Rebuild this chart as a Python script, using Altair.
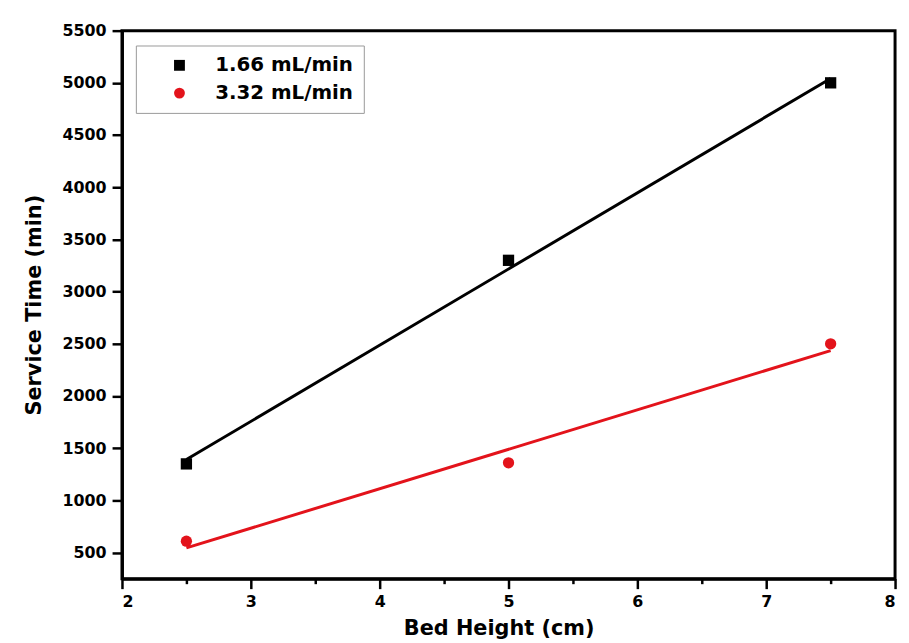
import altair as alt
import pandas as pd

bed_height = [2.5, 5.0, 7.5]
series_a = "1.66 mL/min"
series_b = "3.32 mL/min"
time_a = [1350, 3300, 5000]
time_b = [610, 1360, 2500]

x_major = [2, 3, 4, 5, 6, 7, 8]
x_minor = [2.5, 3.5, 4.5, 5.5, 6.5, 7.5]
y_major = [500, 1000, 1500, 2000, 2500, 3000, 3500, 4000, 4500, 5000, 5500]
y_minor = [750, 1250, 1750, 2250, 2750, 3250, 3750, 4250, 4750, 5250]

df = pd.DataFrame({
    "x": bed_height + bed_height,
    "y": time_a + time_b,
    "series": [series_a] * 3 + [series_b] * 3,
})

FONT = "DejaVu Sans"
RED = "#e3131b"

xaxis = alt.Axis(
    values=sorted(x_major + x_minor),
    labelExpr="datum.value % 1 === 0 ? format(datum.value, 'd') : ''",
    tickSize={"condition": {"test": "datum.value % 1 !== 0", "value": 5}, "value": 10},
    grid=False, title="Bed Height (cm)", labelFont=FONT, labelFontSize=16,
    labelFontWeight="bold", labelColor="black", titleFont=FONT, titleFontSize=21,
    titleFontWeight="bold", titleColor="black", domainColor="black", domainWidth=3,
    tickColor="black", tickWidth=2.5, labelPadding=5, titlePadding=8,
    titleX=380,
)
yaxis = alt.Axis(
    values=sorted(y_major + y_minor),
    labelExpr="datum.value % 500 === 0 ? format(datum.value, 'd') : ''",
    tickSize={"condition": {"test": "datum.value % 500 !== 0", "value": 5}, "value": 10},
    grid=False, title="Service Time (min)", labelFont=FONT, labelFontSize=16,
    labelFontWeight="bold", labelColor="black", titleFont=FONT, titleFontSize=21,
    titleFontWeight="bold", titleColor="black", domainColor="black", domainWidth=3,
    tickColor="black", tickWidth=2.5, labelPadding=6, titlePadding=18,
)

xs = alt.Scale(domain=[2, 8], nice=False, zero=False)
ys = alt.Scale(domain=[250, 5500], nice=False, zero=False)
cs = alt.Scale(domain=[series_a, series_b], range=["black", RED])
ss = alt.Scale(domain=[series_a, series_b], range=["square", "circle"])

legend = alt.Legend(
    title=None, orient="none", legendX=14, legendY=15,
    labelFont=FONT, labelFontSize=20, labelFontWeight="bold", labelColor="black",
    fillColor="white", strokeColor="#999999", padding=10, rowPadding=8,
    symbolOffset=24, labelOffset=26, symbolSize=120, symbolStrokeWidth=0,
    labelLimit=300,
)

base = alt.Chart(df)

points = base.mark_point(filled=True, opacity=1, size=130).encode(
    x=alt.X("x:Q", scale=xs, axis=xaxis),
    y=alt.Y("y:Q", scale=ys, axis=yaxis),
    color=alt.Color("series:N", scale=cs, legend=legend),
    shape=alt.Shape("series:N", scale=ss, legend=legend),
)

lines = base.transform_regression(
    "x", "y", groupby=["series"]
).mark_line(strokeWidth=3, clip=True).encode(
    x=alt.X("x:Q", scale=xs),
    y=alt.Y("y:Q", scale=ys),
    color=alt.Color("series:N", scale=cs),
)

chart = alt.layer(points, lines).properties(
    width=780, height=553,
    background="white",
    autosize=alt.AutoSizeParams(type="none"),
    padding={"left": 115, "top": 20, "right": 6, "bottom": 62},
).configure_view(stroke="black", strokeWidth=3)

chart.save("out.html", embed_options={"renderer": "svg", "actions": False})
